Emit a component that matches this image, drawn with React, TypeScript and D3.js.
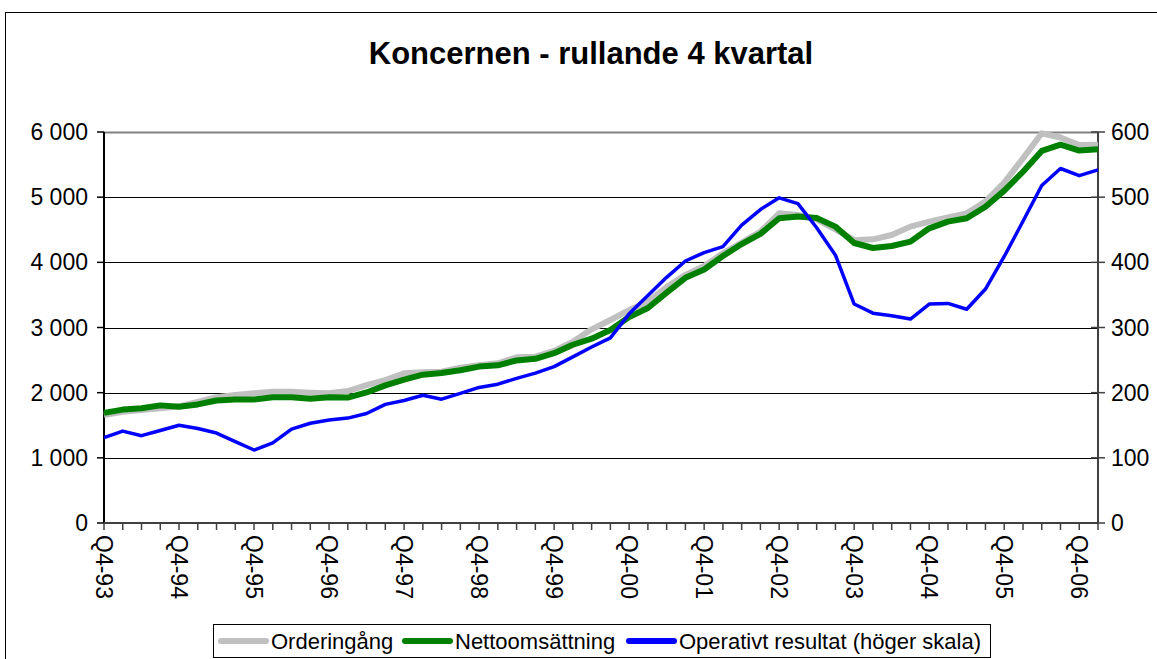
import React, { useEffect, useRef } from "react";
import * as d3 from "d3";

const quarters = [
  "Q4-93", "Q1-94", "Q2-94", "Q3-94", "Q4-94", "Q1-95", "Q2-95", "Q3-95",
  "Q4-95", "Q1-96", "Q2-96", "Q3-96", "Q4-96", "Q1-97", "Q2-97", "Q3-97",
  "Q4-97", "Q1-98", "Q2-98", "Q3-98", "Q4-98", "Q1-99", "Q2-99", "Q3-99",
  "Q4-99", "Q1-00", "Q2-00", "Q3-00", "Q4-00", "Q1-01", "Q2-01", "Q3-01",
  "Q4-01", "Q1-02", "Q2-02", "Q3-02", "Q4-02", "Q1-03", "Q2-03", "Q3-03",
  "Q4-03", "Q1-04", "Q2-04", "Q3-04", "Q4-04", "Q1-05", "Q2-05", "Q3-05",
  "Q4-05", "Q1-06", "Q2-06", "Q3-06", "Q4-06", "Q1-07",
];

// Orderingång, MSEK (vänster skala)
const orderingang = [
  1655, 1705, 1735, 1760, 1790, 1860, 1930, 1964, 1990, 2015,
  2015, 2000, 1990, 2025, 2117, 2194, 2297, 2312, 2322, 2383,
  2420, 2450, 2542, 2552, 2640, 2783, 2972, 3115, 3268, 3396,
  3620, 3808, 3944, 4138, 4302, 4470, 4752, 4727, 4660, 4506,
  4340, 4353, 4419, 4548, 4624, 4691, 4752, 4931, 5225, 5596,
  5980, 5915, 5800, 5805,
];

// Nettoomsättning, MSEK (vänster skala)
const nettoomsattning = [
  1690, 1740, 1760, 1805, 1785, 1820, 1880, 1895, 1895, 1930,
  1930, 1905, 1928, 1925, 2003, 2112, 2200, 2276, 2302, 2345,
  2400, 2420, 2495, 2520, 2605, 2735, 2828, 2962, 3160, 3300,
  3535, 3762, 3890, 4097, 4280, 4437, 4676, 4705, 4680, 4548,
  4297, 4220, 4250, 4317, 4522, 4624, 4676, 4854, 5100, 5390,
  5710, 5805, 5715, 5737,
];

// Operativt resultat, MSEK (höger skala)
const operativtResultat = [
  131, 141, 134, 142, 150, 145, 138, 125, 112, 123,
  144, 153, 158, 161, 168, 182, 188, 196, 190, 199,
  208, 213, 222, 230, 240, 255, 270, 284, 321, 349,
  377, 402, 415, 424, 457, 481, 499, 490, 453, 411,
  336, 322, 318, 313, 336, 337, 328, 359, 409, 463,
  518, 544, 533, 542,
];

const leftTicks = [0, 1000, 2000, 3000, 4000, 5000, 6000];
const rightTicks = [0, 100, 200, 300, 400, 500, 600];

const series = [
  { name: "Orderingång", values: orderingang, axis: "left", color: "#c0c0c0", width: 6 },
  { name: "Nettoomsättning", values: nettoomsattning, axis: "left", color: "#008000", width: 6 },
  { name: "Operativt resultat (höger skala)", values: operativtResultat, axis: "right", color: "#0000ff", width: 3.5 },
];

const FONT = "Arial, 'Liberation Sans', sans-serif";

export default function App() {
  const svgRef = useRef<SVGSVGElement>(null);

  useEffect(() => {
    if (!svgRef.current) return;
    const svg = d3.select(svgRef.current);
    svg.selectAll("*").remove();

    const width = 1157;
    const height = 659;
    const plot = { left: 104, right: 1098, top: 132, bottom: 523 };

    const x = d3.scalePoint<string>().domain(quarters).range([plot.left, plot.right]);
    const yLeft = d3.scaleLinear().domain([0, 6000]).range([plot.bottom, plot.top]);
    const yRight = d3.scaleLinear().domain([0, 600]).range([plot.bottom, plot.top]);

    const sv = d3.formatLocale({ decimal: ",", thousands: " ", grouping: [3], currency: ["", ""] });
    const fmt = sv.format(",");

    svg.append("rect").attr("width", width).attr("height", height).attr("fill", "#fff");

    // outer chart border
    svg.append("rect")
      .attr("x", 5.5).attr("y", 12.5)
      .attr("width", width + 20).attr("height", height + 20)
      .attr("fill", "none").attr("stroke", "#000").attr("stroke-width", 1);

    svg.append("text")
      .attr("x", 591).attr("y", 64)
      .attr("text-anchor", "middle")
      .attr("font-family", FONT).attr("font-size", 31).attr("font-weight", "bold")
      .text("Koncernen - rullande 4 kvartal");

    const g = svg.append("g");

    // gridlines
    g.selectAll("line.grid")
      .data(leftTicks.filter((d) => d > 0))
      .join("line")
      .attr("x1", plot.left).attr("x2", plot.right)
      .attr("y1", (d) => Math.round(yLeft(d)) + 0.5).attr("y2", (d) => Math.round(yLeft(d)) + 0.5)
      .attr("stroke", (d) => (d === 6000 ? "#808080" : "#000"))
      .attr("stroke-width", (d) => (d === 6000 ? 2 : 1));

    // left axis
    const left = g.append("g");
    left.append("line")
      .attr("x1", plot.left).attr("x2", plot.left)
      .attr("y1", plot.top).attr("y2", plot.bottom)
      .attr("stroke", "#000").attr("stroke-width", 2);
    left.selectAll("line.tick").data(leftTicks).join("line")
      .attr("x1", plot.left - 7).attr("x2", plot.left)
      .attr("y1", (d) => yLeft(d)).attr("y2", (d) => yLeft(d))
      .attr("stroke", "#000").attr("stroke-width", 1.5);
    left.selectAll("text").data(leftTicks).join("text")
      .attr("x", plot.left - 16).attr("y", (d) => yLeft(d))
      .attr("dy", "0.35em").attr("text-anchor", "end")
      .attr("font-family", FONT).attr("font-size", 23)
      .text((d) => fmt(d));

    // right axis
    const right = g.append("g");
    right.append("line")
      .attr("x1", plot.right).attr("x2", plot.right)
      .attr("y1", plot.top).attr("y2", plot.bottom)
      .attr("stroke", "#404040").attr("stroke-width", 2);
    right.selectAll("line.tick").data(rightTicks).join("line")
      .attr("x1", plot.right - 7).attr("x2", plot.right + 7)
      .attr("y1", (d) => yRight(d)).attr("y2", (d) => yRight(d))
      .attr("stroke", "#404040").attr("stroke-width", 1.5);
    right.selectAll("text").data(rightTicks).join("text")
      .attr("x", plot.right + 13).attr("y", (d) => yRight(d))
      .attr("dy", "0.35em").attr("text-anchor", "start")
      .attr("font-family", FONT).attr("font-size", 23)
      .text((d) => d);

    // x axis
    const bottom = g.append("g");
    bottom.append("line")
      .attr("x1", plot.left).attr("x2", plot.right)
      .attr("y1", plot.bottom).attr("y2", plot.bottom)
      .attr("stroke", "#404040").attr("stroke-width", 2);
    bottom.selectAll("line.tick").data(quarters).join("line")
      .attr("x1", (d) => x(d)!).attr("x2", (d) => x(d)!)
      .attr("y1", plot.bottom).attr("y2", plot.bottom + 7)
      .attr("stroke", "#404040").attr("stroke-width", 1.5);
    bottom.selectAll("text").data(quarters.filter((q) => q.startsWith("Q4"))).join("text")
      .attr("transform", (d) => `translate(${x(d)},${plot.bottom + 12}) rotate(90)`)
      .attr("dy", "0.35em").attr("text-anchor", "start")
      .attr("font-family", FONT).attr("font-size", 23)
      .text((d) => d);

    // series lines
    series.forEach((s) => {
      const yScale = s.axis === "left" ? yLeft : yRight;
      const line = d3.line<number>()
        .x((_, i) => x(quarters[i])!)
        .y((d) => yScale(d));
      g.append("path")
        .datum(s.values)
        .attr("fill", "none")
        .attr("stroke", s.color)
        .attr("stroke-width", s.width)
        .attr("stroke-linejoin", "round")
        .attr("d", line);
    });

    // legend
    const lg = svg.append("g");
    lg.append("rect")
      .attr("x", 213.5).attr("y", 624.5).attr("width", 777).attr("height", 33)
      .attr("fill", "#fff").attr("stroke", "#000").attr("stroke-width", 1);
    const items = [
      { s: series[0], x0: 218, tx: 271 },
      { s: series[1], x0: 402, tx: 455 },
      { s: series[2], x0: 626, tx: 679 },
    ];
    items.forEach((it) => {
      lg.append("line")
        .attr("x1", it.x0 + 3).attr("x2", it.x0 + 48)
        .attr("y1", 641).attr("y2", 641)
        .attr("stroke", it.s.color).attr("stroke-width", 6)
        .attr("stroke-linecap", "round");
      lg.append("text")
        .attr("x", it.tx).attr("y", 641)
        .attr("dy", "0.35em")
        .attr("font-family", FONT).attr("font-size", 22)
        .text(it.s.name);
    });
  }, []);

  return (
    <svg
      ref={svgRef}
      width={1157}
      height={659}
      style={{ position: "absolute", left: 0, top: 0, display: "block" }}
    />
  );
}
